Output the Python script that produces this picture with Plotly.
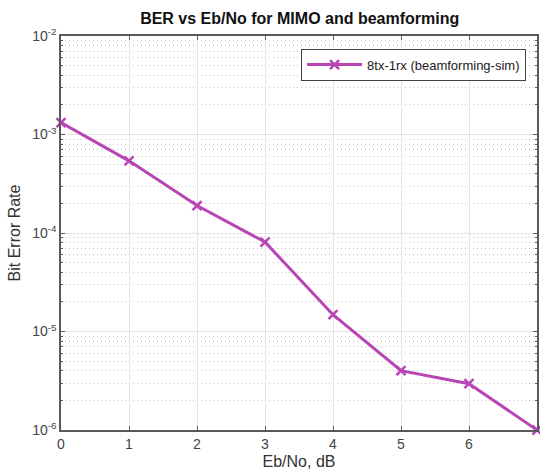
import plotly.graph_objects as go

ebno_db = [0, 1, 2, 3, 4, 5, 6, 7]
ber_beamforming = [1.32e-3, 5.4e-4, 1.9e-4, 8.1e-5, 1.48e-5, 4.0e-6, 2.95e-6, 1.0e-6]
series_name = "8tx-1rx (beamforming-sim)"
y_tick_vals = [1e-6, 1e-5, 1e-4, 1e-3, 1e-2]
y_tick_text = ["10<sup>-6</sup>", "10<sup>-5</sup>", "10<sup>-4</sup>", "10<sup>-3</sup>", "10<sup>-2</sup>"]
x_tick_vals = [0, 1, 2, 3, 4, 5, 6, 7]

color = "#B845B4"
axis_color = "#5a5a5a"
font = "Liberation Sans, Arial, sans-serif"

fig = go.Figure()
fig.add_trace(go.Scatter(
    x=ebno_db, y=ber_beamforming, mode="lines+markers", name=series_name,
    line=dict(color=color, width=3),
    marker=dict(symbol="x-thin", size=9, line=dict(color=color, width=2.5), color=color),
    cliponaxis=False,
))

fig.update_layout(
    width=540, height=474,
    margin=dict(l=61, r=1, t=36, b=44),
    paper_bgcolor="white", plot_bgcolor="white",
    font=dict(family=font, color="#333333", size=14),
    title=dict(text="<b>BER vs Eb/No for MIMO and beamforming</b>", x=0.555, xanchor="center",
               y=0.962, yanchor="middle", font=dict(size=16, color="#111111")),
    showlegend=True,
    legend=dict(x=0.977, xanchor="right", y=0.968, yanchor="top",
                bgcolor="white", bordercolor="#444444", borderwidth=1,
                font=dict(size=13, color="#222222"), itemwidth=55,
                tracegroupgap=0),
)
fig.update_xaxes(
    range=[0, 7], tickvals=x_tick_vals, ticks="inside", ticklen=4, tickcolor=axis_color,
    showline=True, linecolor=axis_color, linewidth=1.5, mirror="ticks",
    showgrid=True, gridcolor="#e3e3e3", gridwidth=1, zeroline=False,
    tickfont=dict(size=14, color="#444444"),
    title=dict(text="Eb/No, dB", font=dict(size=16, color="#333333"), standoff=5),
)
fig.update_yaxes(
    type="log", range=[-6, -2], tickvals=y_tick_vals, ticktext=y_tick_text,
    ticks="inside", ticklen=4, tickcolor=axis_color,
    showline=True, linecolor=axis_color, linewidth=1.5, mirror="ticks",
    showgrid=True, gridcolor="#e3e3e3", gridwidth=1, zeroline=False,
    tickfont=dict(size=14, color="#444444"),
    minor=dict(dtick="D1", showgrid=True, griddash="1px,3px", gridcolor="#c4c4c4", gridwidth=1,
               ticks="inside", ticklen=2, tickcolor=axis_color),
    title=dict(text="Bit Error Rate", font=dict(size=16, color="#333333"), standoff=8),
)

fig.write_html("out.html")
